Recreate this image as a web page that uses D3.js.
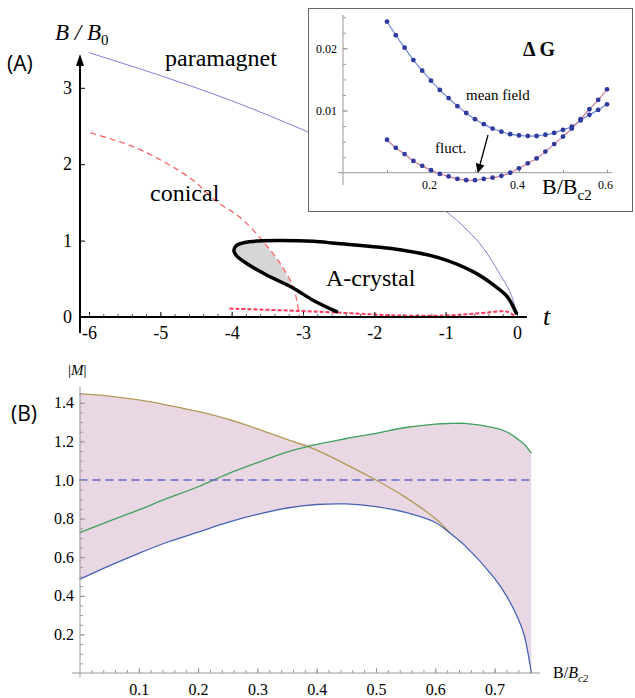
<!DOCTYPE html>
<html>
<head>
<meta charset="utf-8">
<script src="https://cdn.jsdelivr.net/npm/d3@7"></script>
<style>
  body { margin: 0; background: #fff; }
  text { font-family: "Liberation Serif", "Times New Roman", serif; }
</style>
</head>
<body>
<div id="chart"></div>
<script>
// ---- panel A : phase diagram B/B0 vs t ----
var paraT = [-6.0, -5.0, -4.0, -3.0, -2.5, -2.0, -1.5, -0.99, -0.7, -0.47, -0.24, -0.1, -0.03, 0];
var paraB = [3.46, 3.16, 2.83, 2.45, 2.24, 2.0, 1.73, 1.38, 1.14, 0.9, 0.56, 0.33, 0.14, 0.04];

var conT = [-5.98, -5.38, -4.91, -4.54, -4.21, -3.89, -3.56, -3.32, -3.14, -3.08, -3.05];
var conB = [2.41, 2.23, 2.01, 1.79, 1.51, 1.31, 0.99, 0.70, 0.40, 0.18, 0.0];

var crystT = [-2.53, -2.86, -3.14, -3.51, -3.79, -3.93, -3.97, -3.94, -3.82, -3.62, -3.32, -2.86, -2.55, -1.64, -1.08, -0.61, -0.33, -0.14, -0.03, -0.01];
var crystB = [0.07, 0.22, 0.38, 0.55, 0.70, 0.80, 0.87, 0.93, 0.975, 0.995, 1.0, 0.99, 0.965, 0.88, 0.77, 0.59, 0.42, 0.27, 0.09, 0.05];

var lowT = [-4.03, -3.07, -2.34, -1.69, -0.99, -0.52, -0.14, -0.03];
var lowB = [0.11, 0.08, 0.05, 0.02, 0.02, 0.05, 0.07, 0.01];

var tTicks = [-6, -5, -4, -3, -2, -1, 0];
var bTicks = [0, 1, 2, 3];

// ---- inset : Delta G ----
var insetX = [0.10, 0.12, 0.14, 0.16, 0.18, 0.20, 0.22, 0.24, 0.26, 0.28, 0.30, 0.32, 0.34,
              0.36, 0.38, 0.40, 0.42, 0.44, 0.46, 0.48, 0.50, 0.52, 0.54, 0.56, 0.58, 0.60];
var meanField = [0.0243, 0.0221, 0.0201, 0.0181, 0.0164, 0.0148, 0.0133, 0.0120, 0.0107, 0.0096,
                 0.0086, 0.0078, 0.0071, 0.0066, 0.0062, 0.0060, 0.0059, 0.0059, 0.0061, 0.0064,
                 0.0069, 0.0074, 0.0084, 0.0093, 0.0101, 0.0110];
var fluct = [0.0053, 0.0040, 0.0030, 0.0019, 0.0011, 0.0004, -0.0002, -0.0006, -0.0010, -0.0012,
             -0.0012, -0.0010, -0.0008, -0.0005, 0.0000, 0.0007, 0.0015, 0.0023, 0.0034, 0.0046,
             0.0058, 0.0071, 0.0086, 0.0102, 0.0117, 0.0134];
var insetXTicks = [0.2, 0.4, 0.6];
var insetYTicks = [0.01, 0.02];

// ---- panel B : |M| vs B/Bc2 ----
var bField = [0, 0.05, 0.1, 0.15, 0.2, 0.25, 0.3, 0.35, 0.4, 0.45, 0.5, 0.55, 0.6, 0.625, 0.65, 0.7, 0.72, 0.74, 0.75, 0.762];
var mBlue  = [0.485, 0.555, 0.62, 0.68, 0.73, 0.78, 0.822, 0.855, 0.873, 0.876, 0.862, 0.832, 0.78, 0.724, 0.66, 0.49, 0.40, 0.28, 0.195, 0.0];
var mGreen = [0.727, 0.787, 0.845, 0.907, 0.965, 1.032, 1.09, 1.145, 1.185, 1.215, 1.242, 1.272, 1.29, 1.293, 1.293, 1.27, 1.25, 1.21, 1.185, 1.138];
var mGold  = [1.446, 1.435, 1.415, 1.387, 1.355, 1.315, 1.265, 1.21, 1.155, 1.08, 1.0, 0.91, 0.80, 0.724];
var mDash = 1.0;
var mTicks = [0.2, 0.4, 0.6, 0.8, 1.0, 1.2, 1.4];
var fieldTicks = [0.1, 0.2, 0.3, 0.4, 0.5, 0.6, 0.7];

var svg = d3.select("#chart").append("svg")
  .attr("width", 635).attr("height", 698);

// ================= panel A =================
var xA = d3.scaleLinear().domain([-6, 0]).range([89, 517]);
var yA = d3.scaleLinear().domain([0, 3]).range([317, 87.8]);

var smooth = d3.line().curve(d3.curveCatmullRom)
  .x(function(d) { return xA(d[0]); })
  .y(function(d) { return yA(d[1]); });

var para = paraT.map(function(t, i) { return [t, paraB[i]]; });
var conical = conT.map(function(t, i) { return [t, conB[i]]; });
var cryst = crystT.map(function(t, i) { return [t, crystB[i]]; });
var low = lowT.map(function(t, i) { return [t, lowB[i]]; });

// grey region: inside the A-crystal loop, left of the conical line
var clipPts = conical.map(function(d) { return [xA(d[0]), yA(d[1])]; });
clipPts.push([0, yA(0)], [0, yA(conB[0])]);
svg.append("clipPath").attr("id", "leftOfConical")
  .append("path").attr("d", "M" + clipPts.join("L") + "Z");

svg.append("path")
  .attr("d", smooth(cryst) + "Z")
  .attr("fill", "#d6d6d6")
  .attr("clip-path", "url(#leftOfConical)");

svg.append("path").attr("d", smooth(para))
  .attr("fill", "none").attr("stroke", "#7f7fcf").attr("stroke-width", 1);

svg.append("path").attr("d", smooth(conical))
  .attr("fill", "none").attr("stroke", "#ff5a5a").attr("stroke-width", 1.2)
  .attr("stroke-dasharray", "6,4");

svg.append("path").attr("d", smooth(low))
  .attr("fill", "none").attr("stroke", "#ff3a5a").attr("stroke-width", 2)
  .attr("stroke-dasharray", "4,2");

svg.append("path").attr("d", smooth(cryst))
  .attr("fill", "none").attr("stroke", "#000").attr("stroke-width", 3.5)
  .attr("stroke-linecap", "round");

// axes A
var axA = svg.append("g").attr("transform", "translate(0,317)")
  .call(d3.axisBottom(xA).tickValues(tTicks).tickSize(-5).tickPadding(9)
    .tickFormat(function(d) { return String(d); }));
axA.select(".domain").remove();
axA.selectAll("text").attr("font-size", 18);

var axAm = svg.append("g").attr("transform", "translate(0,317)")
  .call(d3.axisBottom(xA).tickValues(d3.range(-6, 0.01, 0.2)).tickSize(-3).tickFormat(""));
axAm.select(".domain").remove();
axAm.selectAll("line").attr("stroke", "#555");

var ayA = svg.append("g").attr("transform", "translate(80,0)")
  .call(d3.axisLeft(yA).tickValues(bTicks).tickSize(-5).tickPadding(8).tickFormat(d3.format("d")));
ayA.select(".domain").remove();
ayA.selectAll("text").attr("font-size", 18);

svg.append("line").attr("x1", 80).attr("x2", 527).attr("y1", 317).attr("y2", 317)
  .attr("stroke", "#000").attr("stroke-width", 2);
svg.append("line").attr("x1", 80).attr("x2", 80).attr("y1", 333).attr("y2", 62)
  .attr("stroke", "#000").attr("stroke-width", 2);
svg.append("path").attr("d", "M80,54L76,66L84,66Z").attr("fill", "#000");

svg.append("text").attr("x", 543).attr("y", 325).attr("font-size", 26)
  .attr("font-style", "italic").text("t");

var bLab = svg.append("text").attr("x", 55).attr("y", 40).attr("font-size", 23).attr("font-style", "italic");
bLab.append("tspan").text("B / B");
bLab.append("tspan").attr("dy", 5).attr("font-size", 15).attr("font-style", "normal").text("0");

svg.append("text").attr("x", 7).attr("y", 71).attr("font-size", 21)
  .style("font-family", "'Open Sans', 'DejaVu Sans', sans-serif").text("(A)");
svg.append("text").attr("x", 165).attr("y", 66).attr("font-size", 24).text("paramagnet");
svg.append("text").attr("x", 150).attr("y", 201).attr("font-size", 24).text("conical");
svg.append("text").attr("x", 326).attr("y", 286).attr("font-size", 24).text("A-crystal");

// ================= inset =================
svg.append("rect").attr("x", 308.5).attr("y", 8.5).attr("width", 324).attr("height", 203)
  .attr("fill", "#fff").attr("stroke", "#666").attr("stroke-width", 1);

var xI = d3.scaleLinear().domain([0, 0.6]).range([343, 607]);
var yI = d3.scaleLinear().domain([0, 0.02]).range([172.7, 48.3]);

svg.append("line").attr("x1", 338).attr("x2", 612).attr("y1", yI(0)).attr("y2", yI(0))
  .attr("stroke", "#999");
svg.append("line").attr("x1", 343).attr("x2", 343).attr("y1", 15).attr("y2", 185)
  .attr("stroke", "#999");

var axI = svg.append("g").attr("transform", "translate(0," + yI(0) + ")")
  .call(d3.axisBottom(xI).tickValues([0.1, 0.2, 0.3, 0.4, 0.5, 0.6]).tickSize(-3).tickPadding(8)
    .tickFormat(function(d) { return insetXTicks.indexOf(d) >= 0 ? d3.format(".1f")(d) : ""; }));
axI.select(".domain").remove();
axI.selectAll("line").attr("stroke", "#999");
axI.selectAll("text").attr("font-size", 12).attr("dx", -2);

var ayIm = svg.append("g").attr("transform", "translate(343,0)")
  .call(d3.axisLeft(yI).tickValues(d3.range(0.0025, 0.0251, 0.0025)).tickSize(-3).tickFormat(""));
ayIm.select(".domain").remove();
ayIm.selectAll("line").attr("stroke", "#999");

var ayI = svg.append("g").attr("transform", "translate(343,0)")
  .call(d3.axisLeft(yI).tickValues(insetYTicks).tickSize(-5).tickPadding(6).tickFormat(d3.format(".2f")));
ayI.select(".domain").remove();
ayI.selectAll("line").attr("stroke", "#999");
ayI.selectAll("text").attr("font-size", 12);

var lineI = d3.line().curve(d3.curveCatmullRom)
  .x(function(d, i) { return xI(insetX[i]); })
  .y(function(d) { return yI(d); });

svg.append("path").attr("d", lineI(meanField))
  .attr("fill", "none").attr("stroke", "#7088d8").attr("stroke-width", 1.2);
svg.append("path").attr("d", lineI(fluct))
  .attr("fill", "none").attr("stroke", "#d07a98").attr("stroke-width", 1.2);

[meanField, fluct].forEach(function(series) {
  svg.append("g").selectAll("circle")
    .data(series)
    .enter().append("circle")
      .attr("cx", function(d, i) { return xI(insetX[i]); })
      .attr("cy", function(d) { return yI(d); })
      .attr("r", 2.4)
      .attr("fill", "#2e3a9e");
});

svg.append("text").attr("x", 523).attr("y", 56).attr("font-size", 20).attr("font-weight", "bold")
  .text("\u0394 G");
svg.append("text").attr("x", 466).attr("y", 100).attr("font-size", 15).text("mean field");
svg.append("text").attr("x", 435).attr("y", 153).attr("font-size", 15).text("fluct.");

svg.append("defs").append("marker").attr("id", "arrowHead")
  .attr("viewBox", "0 0 10 10").attr("refX", 9).attr("refY", 5)
  .attr("markerWidth", 7).attr("markerHeight", 7).attr("orient", "auto")
  .append("path").attr("d", "M0,0L10,5L0,10Z").attr("fill", "#000");
svg.append("line").attr("x1", 488).attr("y1", 135).attr("x2", 478).attr("y2", 172)
  .attr("stroke", "#000").attr("stroke-width", 1.3).attr("marker-end", "url(#arrowHead)");

var insLab = svg.append("text").attr("x", 542).attr("y", 194).attr("font-size", 22);
insLab.append("tspan").text("B/B");
insLab.append("tspan").attr("dy", 6).attr("font-size", 15).text("c2");

// ================= panel B =================
var xB = d3.scaleLinear().domain([0, 0.7]).range([79.5, 494.6]);
var yB = d3.scaleLinear().domain([0, 1.4]).range([673, 402.8]);

var upper = bField.map(function(u, i) {
  var g = i < mGold.length ? mGold[i] : -1;
  return Math.max(g, mGreen[i]);
});

svg.append("path")
  .datum(bField)
  .attr("d", d3.area().curve(d3.curveCatmullRom)
    .x(function(d) { return xB(d); })
    .y0(function(d, i) { return yB(mBlue[i]); })
    .y1(function(d, i) { return yB(upper[i]); }))
  .attr("fill", "#e9d7e3");

var lineB = function(vals) {
  return d3.line().curve(d3.curveCatmullRom)
    .x(function(d, i) { return xB(bField[i]); })
    .y(function(d) { return yB(d); })(vals);
};

svg.append("path").attr("d", lineB(mGold))
  .attr("fill", "none").attr("stroke", "#b09a55").attr("stroke-width", 1.3);
svg.append("path").attr("d", lineB(mGreen))
  .attr("fill", "none").attr("stroke", "#3fa15e").attr("stroke-width", 1.3);
svg.append("path").attr("d", lineB(mBlue))
  .attr("fill", "none").attr("stroke", "#4662b5").attr("stroke-width", 1.3);

svg.append("line").attr("x1", xB(0)).attr("x2", xB(0.762))
  .attr("y1", yB(mDash)).attr("y2", yB(mDash))
  .attr("stroke", "#6666c4").attr("stroke-width", 1.4).attr("stroke-dasharray", "8,5");

svg.append("line").attr("x1", 72).attr("x2", 540).attr("y1", 673).attr("y2", 673)
  .attr("stroke", "#999");
svg.append("line").attr("x1", 80).attr("x2", 80).attr("y1", 677).attr("y2", 387)
  .attr("stroke", "#999");

var axBm = svg.append("g").attr("transform", "translate(0,673)")
  .call(d3.axisBottom(xB).tickValues(d3.range(0.02, 0.761, 0.02)).tickSize(-3).tickFormat(""));
axBm.select(".domain").remove();
axBm.selectAll("line").attr("stroke", "#999");

var axB = svg.append("g").attr("transform", "translate(0,673)")
  .call(d3.axisBottom(xB).tickValues(fieldTicks).tickSize(-5).tickPadding(11).tickFormat(d3.format(".1f")));
axB.select(".domain").remove();
axB.selectAll("line").attr("stroke", "#999");
axB.selectAll("text").attr("font-size", 16);

var ayBm = svg.append("g").attr("transform", "translate(80,0)")
  .call(d3.axisLeft(yB).tickValues(d3.range(0.05, 1.46, 0.05)).tickSize(-3).tickFormat(""));
ayBm.select(".domain").remove();
ayBm.selectAll("line").attr("stroke", "#999");

var ayB = svg.append("g").attr("transform", "translate(80,0)")
  .call(d3.axisLeft(yB).tickValues(mTicks).tickSize(-5).tickPadding(6).tickFormat(d3.format(".1f")));
ayB.select(".domain").remove();
ayB.selectAll("line").attr("stroke", "#999");
ayB.selectAll("text").attr("font-size", 16);

var mLab = svg.append("text").attr("x", 68).attr("y", 375).attr("font-size", 15);
mLab.append("tspan").text("|");
mLab.append("tspan").attr("font-style", "italic").text("M");
mLab.append("tspan").text("|");

var fLab = svg.append("text").attr("x", 553).attr("y", 678).attr("font-size", 16);
fLab.append("tspan").text("B/");
fLab.append("tspan").attr("font-style", "italic").text("B");
fLab.append("tspan").attr("font-style", "italic").attr("dy", 4).attr("font-size", 11).text("c2");

svg.append("text").attr("x", 11).attr("y", 421).attr("font-size", 21)
  .style("font-family", "'Open Sans', 'DejaVu Sans', sans-serif").text("(B)");
</script>
</body>
</html>
